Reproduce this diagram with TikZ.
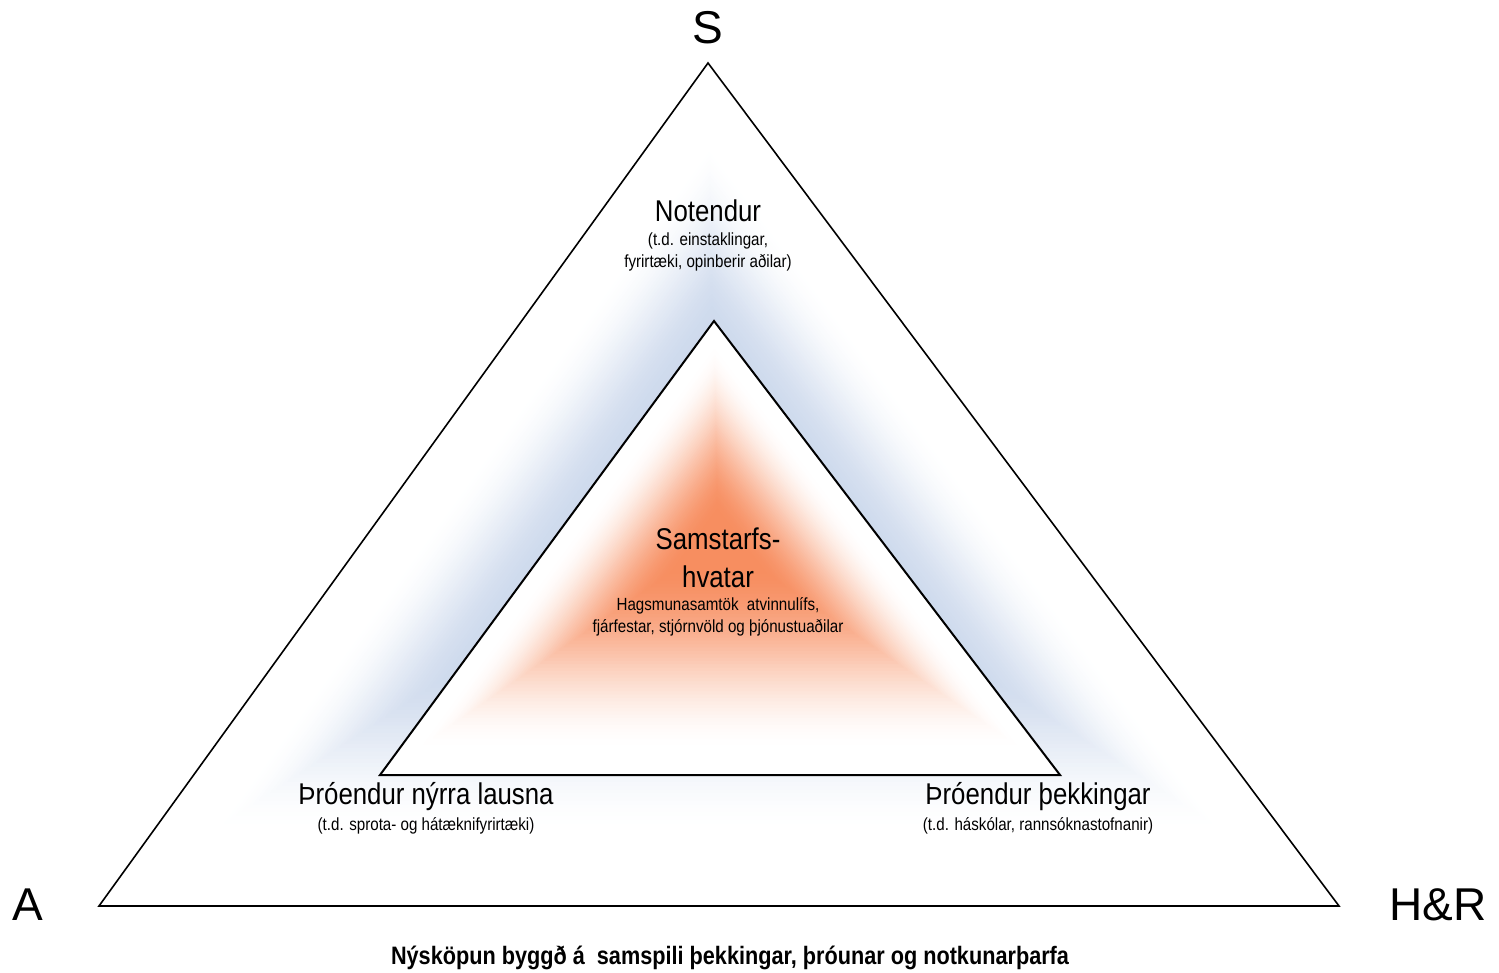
\documentclass[tikz,border=0pt]{standalone}
\usepackage{fontspec}
\setmainfont{Liberation Sans}
\newfontfamily\narrowfont[FakeStretch=0.86]{Liberation Sans}
\usetikzlibrary{calc}
\definecolor{glowblue}{RGB}{206,218,237}
\definecolor{gloworange}{RGB}{247,142,96}
\tikzset{
  corner/.style={font=\fontsize{23}{27}\selectfont, inner sep=0pt},
  title/.style={font=\narrowfont\fontsize{15}{18}\selectfont, inner sep=0pt},
  sub/.style={font=\narrowfont\fontsize{8.8}{11}\selectfont, inner sep=0pt},
  caption/.style={font=\narrowfont\bfseries\fontsize{12.6}{15}\selectfont, inner sep=0pt},
  outertri/.style={draw=black, line width=0.8pt, line join=miter},
  innertri/.style={draw=black, line width=1pt, line join=miter}
}
\begin{document}
\begin{tikzpicture}[x=0.5pt,y=-0.5pt]
\useasboundingbox (0,0) rectangle (1499,973);
\coordinate (O1) at (708,63);
\coordinate (O2) at (99,906);
\coordinate (O3) at (1339,906);
\coordinate (I1) at (714,321);
\coordinate (I2) at (380,775);
\coordinate (I3) at (1060,775);
\coordinate (FB) at (715,500);
\coordinate (FO) at (718,540);
% blue path gradient of the outer triangle
\foreach \i in {0,...,70}{
  \pgfmathsetmacro\t{1-\i*0.65/70}
  \pgfmathsetmacro\q{max(0,min(1,(0.82-\t)/0.42))}
  \pgfmathsetmacro\p{100*\q*\q*(3-2*\q)}
  \fill[glowblue!\p!white] ($(FB)!\t!(O1)$) -- ($(FB)!\t!(O2)$) -- ($(FB)!\t!(O3)$) -- cycle;
}
% orange path gradient of the inner triangle
\foreach \i in {0,...,70}{
  \pgfmathsetmacro\t{1-\i/70}
  \pgfmathsetmacro\q{max(0,min(1,(0.9-\t)/0.78))}
  \pgfmathsetmacro\p{100*\q*\q*(3-2*\q)}
  \fill[gloworange!\p!white] ($(FO)!\t!(I1)$) -- ($(FO)!\t!(I2)$) -- ($(FO)!\t!(I3)$) -- cycle;
}
\draw[outertri] (O1) -- (O2) -- (O3) -- cycle;
\draw[innertri] (I1) -- (I2) -- (I3) -- cycle;
% corner letters
\node[corner] (S) at (708,28) {S};
\node[corner] (A) at (28,905) {A};
\node[corner] (HR) at (1438,905) {H\&R};
% labels
\node[title] (not) at (708,211) {Notendur};
\node[sub] (not1) at (708,241) {(t.d. einstaklingar,};
\node[sub] (not2) at (708,263) {fyrirtæki, opinberir aðilar)};
\node[title] (sam1) at (718,539) {Samstarfs-};
\node[title] (sam2) at (718,577) {hvatar};
\node[sub] (sam3) at (718,606) {Hagsmunasamtök\ \ atvinnulífs,};
\node[sub] (sam4) at (718,628) {fjárfestar, stjórnvöld og þjónustuaðilar};
\node[title] (pl) at (426,797) {Þróendur nýrra lausna};
\node[sub] (pl1) at (426,826) {(t.d. sprota- og hátæknifyrirtæki)};
\node[title] (pr) at (1038,797) {Þróendur þekkingar};
\node[sub] (pr1) at (1038,826) {(t.d. háskólar, rannsóknastofnanir)};
\node[caption] (cap) at (730,958) {Nýsköpun byggð á\ \ samspili þekkingar, þróunar og notkunarþarfa};
\end{tikzpicture}
\end{document}
